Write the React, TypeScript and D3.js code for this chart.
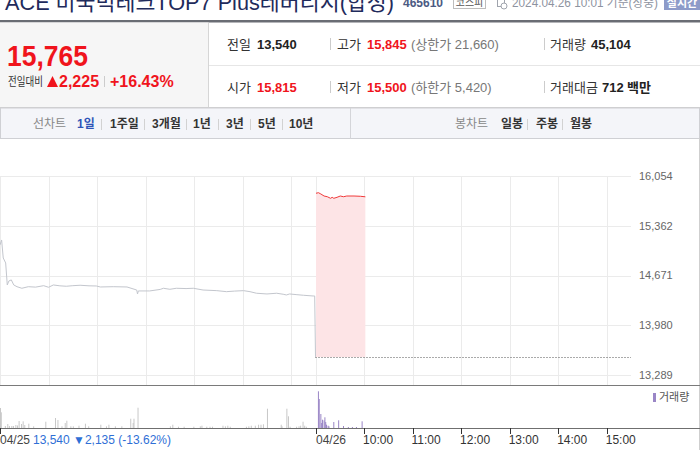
import React from "react";
import * as d3 from "d3";

// ---------- data ----------
const yTicks = [16054, 15362, 14671, 13980, 13289];
const prevClose = 13540;

// 04/25 session (minutes after 09:00)
const prevMinutes = [0, 2, 4, 7, 9, 11, 14, 17, 21, 27, 35, 44, 54, 60, 66, 74, 82, 90, 99, 110, 119, 124, 140, 157, 169, 170, 171, 185, 198, 202, 210, 218, 230, 239, 251, 268, 280, 290, 301, 309, 317, 330, 342, 350, 354, 358, 367, 375, 387, 389, 390];
const prevPrices = [15096, 15165, 14915, 14846, 14540, 14596, 14610, 14540, 14516, 14494, 14516, 14510, 14530, 14508, 14540, 14528, 14522, 14530, 14536, 14528, 14526, 14512, 14516, 14512, 14470, 14415, 14457, 14457, 14478, 14494, 14480, 14494, 14490, 14494, 14470, 14461, 14447, 14455, 14461, 14447, 14425, 14415, 14425, 14411, 14401, 14415, 14405, 14397, 14387, 14387, 13540];

// 04/26 session (minutes after 09:00)
const todayMinutes = [0, 3, 6, 10, 14, 18, 20, 22, 26, 30, 34, 38, 47, 55, 61];
const todayPrices = [15814, 15822, 15804, 15776, 15766, 15744, 15758, 15744, 15758, 15776, 15766, 15776, 15776, 15772, 15765];

// volume bars
const prevVolMinutes = [0, 1, 6, 9, 11, 14, 16, 19, 21, 23, 26, 28, 30, 35, 41, 56, 68, 71, 76, 80, 82, 87, 90, 97, 105, 109, 124, 131, 134, 142, 150, 161, 164, 165, 170, 210, 213, 220, 227, 239, 247, 249, 255, 259, 262, 275, 278, 281, 284, 304, 307, 310, 315, 319, 322, 325, 330, 347, 348, 354, 356, 358, 366, 369, 371, 374, 376, 378];
const prevVolumes = [4000, 3140, 400, 800, 400, 400, 400, 600, 500, 1400, 800, 1340, 600, 860, 340, 1260, 2000, 1600, 340, 1000, 1460, 340, 340, 460, 860, 340, 660, 340, 660, 340, 340, 1860, 1000, 1860, 4060, 340, 660, 260, 260, 260, 340, 460, 260, 260, 260, 460, 340, 460, 260, 260, 340, 460, 460, 660, 660, 740, 3860, 660, 340, 3860, 2340, 260, 260, 340, 460, 1260, 460, 260];
const todayVolMinutes = [3, 4, 6, 7, 8, 10, 11, 12, 13, 15, 16, 22, 28, 34, 40, 45, 50, 57];
const todayVolumes = [7340, 5800, 2800, 1000, 1660, 1540, 2140, 1200, 660, 460, 340, 1200, 1540, 400, 200, 200, 200, 1340];

const dayLabels = ["04/25", "04/26"];
const hourLabels = ["10:00", "11:00", "12:00", "13:00", "14:00", "15:00"];

const lineTabs = ["1일", "1주일", "3개월", "1년", "3년", "5년", "10년"];
const candleTabs = ["일봉", "주봉", "월봉"];

// ---------- helpers ----------
const SESSION = 390;
const FONT = "'Liberation Sans', Arial, 'Noto Sans CJK KR', sans-serif";
const KFONT = "'Liberation Sans', 'Noto Sans CJK KR', sans-serif";

export default function App() {
  const x = d3.scaleLinear().domain([0, SESSION * 2]).range([0, 631]);
  const y = d3.scaleLinear().domain([13289, 16054]).range([375, 176]);
  const vy = d3.scaleLinear().domain([0, 8000]).range([428, 388]);

  const prevPts: [number, number][] = prevMinutes.map((m, i) => [x(m), y(prevPrices[i])]);
  const todayPts: [number, number][] = todayMinutes.map((m, i) => [x(m + SESSION) + 0.5, y(todayPrices[i])]);
  const line = d3.line<[number, number]>();
  const area = d3
    .area<[number, number]>()
    .x((d) => d[0])
    .y0(y(prevClose))
    .y1((d) => d[1]);

  const gridMins: number[] = [];
  for (let d = 0; d < 2; d++) for (let h = 0; h <= 6; h++) gridMins.push(d * SESSION + h * 60);

  const gridColor = "#ebebeb";

  const lineTabX = [77, 110, 152, 193, 226, 258, 289];
  const lineSepX = [101, 144, 186, 218, 250, 282];
  const candleTabX = [501, 536, 570];
  const candleSepX = [527, 562];

  return (
    <svg width={700} height={450} style={{ position: "fixed", left: 0, top: 0, background: "#fff" }} fontFamily={FONT}>
      {/* ---------- header ---------- */}
      <text x={5} y={10} fontSize={21.5} fill="#1f2b5c" fontFamily={KFONT} textLength={389} lengthAdjust="spacingAndGlyphs">
        ACE 미국빅테크TOP7 Plus레버리지(합성)
      </text>
      <text x={403} y={7} fontSize={12} fontWeight="bold" fill="#4b5a82">465610</text>
      <rect x={453.5} y={-5.5} width={32} height={14} fill="#fff" stroke="#bdbdbd" />
      <text x={469.5} y={6} fontSize={10} fill="#555" textAnchor="middle" fontFamily={KFONT}>코스피</text>
      <rect x={497.5} y={-2.5} width={7} height={9} fill="none" stroke="#a0a4ad" />
      <circle cx={504} cy={6} r={3} fill="#fff" stroke="#a0a4ad" />
      <text x={512} y={7} fontSize={12} fill="#8e93a0" fontFamily={KFONT} textLength={146} lengthAdjust="spacingAndGlyphs">2024.04.26 10:01 기준(장중)</text>
      <rect x={664} y={-4} width={37} height={14} fill="#8d9bc9" />
      <text x={682} y={7} fontSize={11} fill="#fff" textAnchor="middle" fontWeight="bold" fontFamily={KFONT}>실시간</text>

      <rect x={0} y={20} width={700} height={2.5} fill="#6a6d74" />

      {/* info panel */}
      <rect x={0} y={22.5} width={208} height={85} fill="#f6f6f6" />
      <line x1={208.5} y1={22.5} x2={208.5} y2={107.5} stroke="#d6d6d6" />
      <line x1={209} y1={65.5} x2={700} y2={65.5} stroke="#e6e6e6" />
      <line x1={0} y1={107.5} x2={700} y2={107.5} stroke="#cfcfcf" />

      <text x={7} y={65.5} fontSize={30} fontWeight="bold" fill="#f0141c" textLength={81} lengthAdjust="spacingAndGlyphs">15,765</text>
      <text x={8} y={86} fontSize={12} fill="#333" fontFamily={KFONT} textLength={35} lengthAdjust="spacingAndGlyphs">전일대비</text>
      <path d="M47,87 L52.5,76 L58,87 Z" fill="#f0141c" />
      <text x={59} y={87} fontSize={16} fontWeight="bold" fill="#f0141c">2,225</text>
      <line x1={104.5} y1={76} x2={104.5} y2={87} stroke="#ccc" />
      <text x={110} y={87} fontSize={16} fontWeight="bold" fill="#f0141c">+16.43%</text>

      <g fontSize={13} fontFamily={KFONT}>
        <text x={227} y={49} fill="#333">전일</text>
        <text x={257} y={49} fill="#222" fontWeight="bold">13,540</text>
        <line x1={330.5} y1={38} x2={330.5} y2={50} stroke="#ccc" />
        <text x={337} y={49} fill="#333">고가</text>
        <text x={367} y={49} fill="#f0141c" fontWeight="bold">15,845</text>
        <text x={411} y={49} fill="#777">(상한가 21,660)</text>
        <line x1={544.5} y1={38} x2={544.5} y2={50} stroke="#ccc" />
        <text x={550} y={49} fill="#333">거래량</text>
        <text x={591} y={49} fill="#222" fontWeight="bold">45,104</text>

        <text x={227} y={92} fill="#333">시가</text>
        <text x={257} y={92} fill="#f0141c" fontWeight="bold">15,815</text>
        <line x1={330.5} y1={81} x2={330.5} y2={93} stroke="#ccc" />
        <text x={337} y={92} fill="#333">저가</text>
        <text x={367} y={92} fill="#f0141c" fontWeight="bold">15,500</text>
        <text x={411} y={92} fill="#777">(하한가 5,420)</text>
        <line x1={544.5} y1={81} x2={544.5} y2={93} stroke="#ccc" />
        <text x={550} y={92} fill="#333">거래대금</text>
        <text x={602} y={92} fill="#222" fontWeight="bold">712</text>
        <text x={627} y={92} fill="#222" fontWeight="bold">백만</text>
      </g>

      {/* tab bar */}
      <rect x={0.5} y={108} width={699} height={30.5} fill="#f4f5f9" stroke="#cfd0d4" />
      <line x1={350.5} y1={108} x2={350.5} y2={138.5} stroke="#d4d5d9" />
      <g fontSize={12} fontFamily={KFONT}>
        <text x={33} y={128} fill="#888">선차트</text>
        {lineTabs.map((t, i) => (
          <text key={t} x={lineTabX[i]} y={128} fill={i === 0 ? "#2f54b8" : "#333"} fontWeight="bold">{t}</text>
        ))}
        {lineSepX.map((sx) => (
          <line key={sx} x1={sx + 0.5} y1={119} x2={sx + 0.5} y2={130} stroke="#d2d2d2" />
        ))}
        <text x={455} y={128} fill="#888">봉차트</text>
        {candleTabs.map((t, i) => (
          <text key={t} x={candleTabX[i]} y={128} fill="#333" fontWeight="bold">{t}</text>
        ))}
        {candleSepX.map((sx) => (
          <line key={sx} x1={sx + 0.5} y1={119} x2={sx + 0.5} y2={130} stroke="#d2d2d2" />
        ))}
      </g>

      <line x1={699.5} y1={138} x2={699.5} y2={450} stroke="#cfcfcf" />

      {/* ---------- price chart grid ---------- */}
      {gridMins.map((m) => (
        <line key={"v" + m} x1={Math.round(x(m)) + 0.5} x2={Math.round(x(m)) + 0.5} y1={176} y2={385} stroke={gridColor} />
      ))}
      {yTicks.map((t) => (
        <g key={t}>
          <line x1={0} x2={631} y1={Math.round(y(t)) + 0.5} y2={Math.round(y(t)) + 0.5} stroke={gridColor} />
          <text x={639} y={y(t)} dy="0.35em" fontSize={11} fill="#666">{d3.format(",")(t)}</text>
        </g>
      ))}

      <line x1={x(SESSION)} x2={631} y1={Math.round(y(prevClose)) + 0.5} y2={Math.round(y(prevClose)) + 0.5} stroke="#555" strokeDasharray="1,2" />

      <path d={area(todayPts) || ""} fill="#fde4e6" />
      <path d={line(prevPts) || ""} fill="none" stroke="#c3c6cd" strokeWidth={1} />
      <path d={line(todayPts) || ""} fill="none" stroke="#f03a3a" strokeWidth={1} />

      <line x1={0} x2={700} y1={385.5} y2={385.5} stroke="#7a7a7a" />

      {/* volume */}
      {prevVolMinutes.map((m, i) => (
        <rect key={"pv" + i} x={x(m)} y={vy(prevVolumes[i])} width={1} height={428 - vy(prevVolumes[i])} fill="#c8c8c8" />
      ))}
      {todayVolMinutes.map((m, i) => (
        <rect key={"tv" + i} x={x(m + SESSION)} y={vy(todayVolumes[i])} width={1} height={428 - vy(todayVolumes[i])} fill="#9a86c6" />
      ))}
      <rect x={653} y={393} width={3} height={9} fill="#9a86c6" />
      <text x={659} y={401} fontSize={11} fill="#555" fontFamily={KFONT}>거래량</text>

      <line x1={0} x2={700} y1={428.5} y2={428.5} stroke="#6f6f6f" />

      {[0, SESSION].map((m, i) => (
        <g key={"d" + m}>
          <line x1={Math.round(x(m)) + 0.5} x2={Math.round(x(m)) + 0.5} y1={428} y2={434} stroke="#333" />
          <text x={x(m) + (i === 0 ? 0 : 0.5)} y={444} fontSize={12} fill="#444">{dayLabels[i]}</text>
        </g>
      ))}
      {hourLabels.map((h, i) => {
        const m = SESSION + (i + 1) * 60;
        return (
          <g key={h}>
            <line x1={Math.round(x(m)) + 0.5} x2={Math.round(x(m)) + 0.5} y1={428} y2={434} stroke="#333" />
            <text x={x(m) - 1} y={444} fontSize={12} fill="#333">{h}</text>
          </g>
        );
      })}
      <text x={33} y={444} fontSize={12} fill="#2f6fd6">13,540 ▼2,135 (-13.62%)</text>
    </svg>
  );
}
